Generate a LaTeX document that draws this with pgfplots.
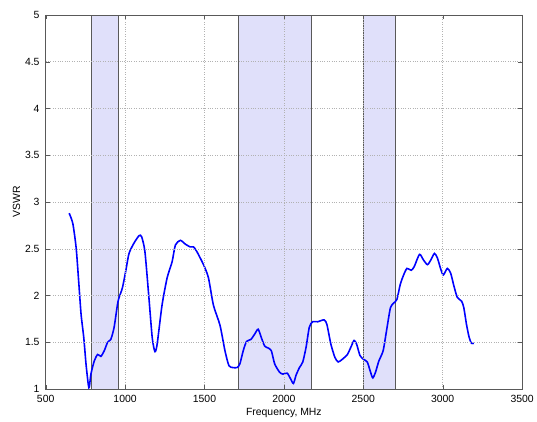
\documentclass[border=0pt]{standalone}
\usepackage{pgfplots}
\pgfplotsset{compat=1.18}
\usepackage{fontspec}
\setmainfont{Liberation Sans}
\definecolor{band}{RGB}{224,224,250}
\definecolor{vswr}{RGB}{0,0,255}
\begin{document}
\begin{tikzpicture}
\begin{axis}[
  scale only axis,
  width=480pt, height=377pt,
  xmin=500, xmax=3500, ymin=1, ymax=5,
  xtick={500,1000,...,3500},
  ytick={1,1.5,...,5},
  yticklabels={1,1.5,2,2.5,3,3.5,4,4.5,5},
  scaled x ticks=false,
  /pgf/number format/assume math mode=true,
  /pgf/number format/set thousands separator={},
  tick label style={font=\fontsize{10.5}{12}\selectfont},
  label style={font=\fontsize{10.5}{12}\selectfont},
  xticklabel style={anchor=center, yshift=-9.5pt},
  yticklabel style={anchor=east, inner sep=0pt, xshift=-6pt},
  xlabel={Frequency, MHz},
  ylabel={VSWR},
  xlabel style={at={(axis description cs:0.5,-0.065)}, anchor=center},
  ylabel style={at={(axis description cs:-0.061,0.5)}, anchor=center},
  grid=major,
  major grid style={gray!60, dotted},
  axis line style={gray!70!black},
  tick style={gray!70!black},
  tick align=inside,
  xtick pos=both, ytick pos=both,
  axis on top,
]
\addplot[fill=band, draw=gray!70!black, line width=0.5pt] coordinates {(790,1) (790,5) (960,5) (960,1)} -- cycle;
\addplot[fill=band, draw=gray!70!black, line width=0.5pt] coordinates {(1710,1) (1710,5) (2170,5) (2170,1)} -- cycle;
\addplot[fill=band, draw=gray!70!black, line width=0.5pt] coordinates {(2500,1) (2500,5) (2700,5) (2700,1)} -- cycle;
\addplot[vswr, line width=1.6pt, smooth, tension=0.4] coordinates {
(648,2.88) (671,2.77) (692,2.51) (708,2.15) (723,1.80) (740,1.55) (754,1.27) (769,1.04) (775,1.02)
(785,1.16) (806,1.30) (827,1.37) (848,1.35) (869,1.41) (890,1.50) (910,1.53) (931,1.66) (956,1.94)
(983,2.08) (1004,2.26) (1025,2.45) (1056,2.56) (1088,2.64) (1104,2.63) (1125,2.47) (1150,1.98)
(1171,1.55) (1188,1.40) (1202,1.48) (1233,1.90) (1265,2.19) (1296,2.36) (1317,2.54) (1348,2.59)
(1379,2.55) (1410,2.52) (1431,2.52) (1452,2.47) (1494,2.33) (1525,2.19) (1556,1.90) (1598,1.68)
(1629,1.41) (1654,1.25) (1680,1.23) (1705,1.23) (1723,1.27) (1744,1.41) (1765,1.51) (1792,1.53)
(1817,1.59) (1838,1.64) (1858,1.55) (1879,1.46) (1900,1.44) (1921,1.41) (1942,1.27) (1973,1.18)
(1994,1.16) (2021,1.17) (2042,1.11) (2060,1.06) (2077,1.15) (2098,1.23) (2119,1.29) (2140,1.45)
(2160,1.66) (2181,1.72) (2213,1.72) (2254,1.74) (2271,1.69) (2296,1.48) (2321,1.34) (2342,1.29)
(2369,1.32) (2400,1.37) (2425,1.46) (2442,1.52) (2458,1.48) (2479,1.36) (2500,1.32) (2525,1.29)
(2546,1.18) (2560,1.12) (2577,1.18) (2598,1.30) (2625,1.41) (2646,1.62) (2671,1.87) (2692,1.92)
(2712,1.96) (2733,2.12) (2754,2.22) (2775,2.29) (2802,2.27) (2821,2.31) (2854,2.44) (2879,2.38)
(2904,2.33) (2925,2.38) (2948,2.45) (2967,2.40) (2988,2.28) (3004,2.22) (3029,2.29) (3050,2.24)
(3071,2.10) (3092,1.98) (3119,1.94) (3133,1.87) (3150,1.69) (3167,1.55) (3181,1.49) (3196,1.49)
};
\coordinate (sw) at (rel axis cs:0,0);
\coordinate (ne) at (rel axis cs:1,1);
\end{axis}
\path ([shift={(-46pt,-31pt)}]sw) rectangle ([shift={(11pt,15pt)}]ne);
\end{tikzpicture}
\end{document}
